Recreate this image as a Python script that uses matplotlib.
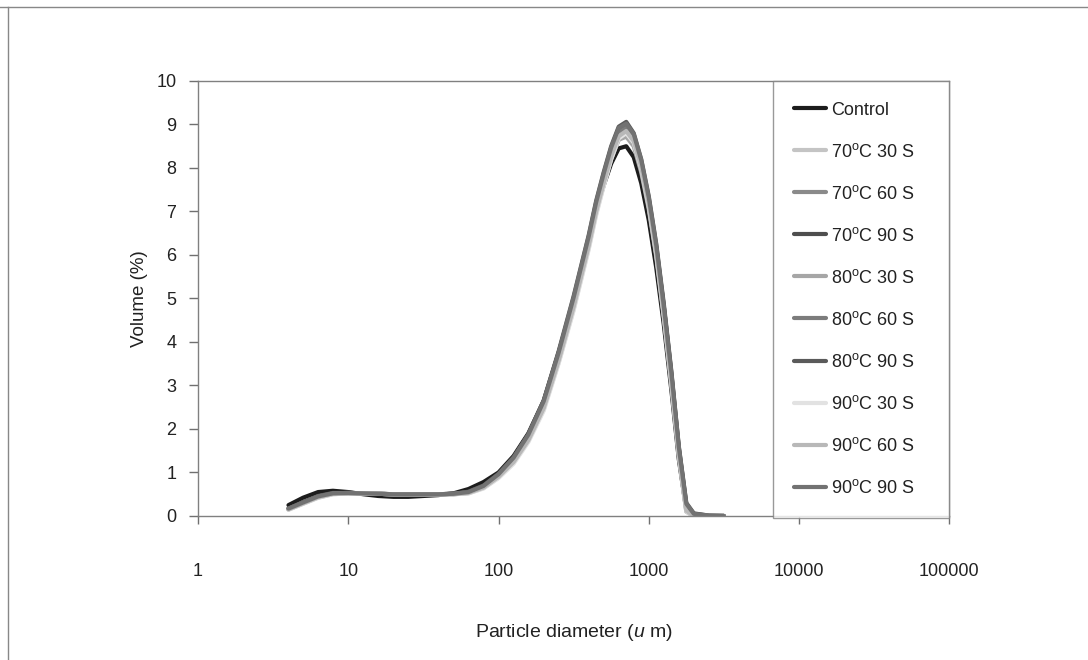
import matplotlib
matplotlib.use("Agg")
import matplotlib.pyplot as plt
from matplotlib.lines import Line2D
from matplotlib.ticker import FixedLocator, NullLocator

plt.rcParams['font.family'] = ['Liberation Sans', 'DejaVu Sans']
plt.rcParams['mathtext.fontset'] = 'custom'
plt.rcParams['mathtext.rm'] = 'Liberation Sans'
plt.rcParams['mathtext.it'] = 'Liberation Sans:italic'

# particle diameter (um), log spaced bins (denser round the peak)
diameter = [4.0, 5.0, 6.3, 7.9, 10, 12.6, 15.8, 20, 25.1, 31.6, 39.8, 50.1, 63.1, 79.4, 100,
            126, 158, 200, 251, 316, 398, 447, 501, 562, 631, 708, 794, 891, 1000, 1122,
            1259, 1413, 1585, 1778, 1995, 2512, 3162]

# volume (%)
control = [0.25, 0.42, 0.55, 0.58, 0.55, 0.50, 0.46, 0.44, 0.44, 0.46, 0.48, 0.52, 0.62, 0.78, 1.00,
           1.38, 1.90, 2.65, 3.75, 4.95, 6.30, 7.05, 7.60, 8.10, 8.45, 8.50, 8.25, 7.65, 6.80, 5.70,
           4.40, 2.90, 1.30, 0.15, 0.00, 0.00, 0.00]
t70_30 = [0.15, 0.28, 0.42, 0.50, 0.52, 0.52, 0.51, 0.50, 0.50, 0.50, 0.50, 0.50, 0.52, 0.64, 0.88,
          1.22, 1.72, 2.45, 3.52, 4.75, 6.15, 6.95, 7.60, 8.20, 8.65, 8.75, 8.55, 7.95, 7.10, 6.00,
          4.60, 3.05, 1.40, 0.10, 0.00, 0.00, 0.00]
t70_60 = [0.16, 0.30, 0.44, 0.51, 0.52, 0.52, 0.51, 0.50, 0.50, 0.50, 0.50, 0.51, 0.54, 0.66, 0.92,
          1.28, 1.80, 2.55, 3.65, 4.90, 6.30, 7.10, 7.75, 8.35, 8.80, 8.88, 8.65, 8.05, 7.20, 6.10,
          4.75, 3.20, 1.50, 0.20, 0.03, 0.00, 0.00]
t70_90 = [0.17, 0.31, 0.45, 0.52, 0.53, 0.52, 0.51, 0.50, 0.50, 0.50, 0.50, 0.51, 0.55, 0.68, 0.95,
          1.32, 1.85, 2.62, 3.72, 4.98, 6.38, 7.18, 7.82, 8.42, 8.88, 8.97, 8.72, 8.12, 7.27, 6.17,
          4.82, 3.27, 1.55, 0.25, 0.05, 0.00, 0.00]
t80_30 = [0.15, 0.29, 0.43, 0.51, 0.52, 0.52, 0.51, 0.50, 0.50, 0.50, 0.50, 0.50, 0.53, 0.65, 0.90,
          1.25, 1.75, 2.50, 3.58, 4.82, 6.22, 7.00, 7.65, 8.25, 8.65, 8.72, 8.50, 7.90, 7.05, 5.95,
          4.55, 3.00, 1.35, 0.10, 0.00, 0.00, 0.00]
t80_60 = [0.16, 0.30, 0.44, 0.52, 0.53, 0.52, 0.51, 0.50, 0.50, 0.50, 0.50, 0.51, 0.54, 0.67, 0.93,
          1.30, 1.82, 2.58, 3.68, 4.93, 6.33, 7.13, 7.78, 8.38, 8.83, 8.92, 8.68, 8.08, 7.25, 6.15,
          4.78, 3.23, 1.52, 0.22, 0.04, 0.00, 0.00]
t80_90 = [0.17, 0.32, 0.46, 0.53, 0.53, 0.52, 0.51, 0.50, 0.50, 0.50, 0.50, 0.51, 0.56, 0.70, 0.97,
          1.35, 1.88, 2.66, 3.78, 5.05, 6.45, 7.25, 7.90, 8.50, 8.95, 9.06, 8.80, 8.20, 7.35, 6.25,
          4.88, 3.33, 1.60, 0.30, 0.06, 0.01, 0.00]
t90_30 = [0.14, 0.28, 0.42, 0.50, 0.52, 0.52, 0.51, 0.50, 0.50, 0.50, 0.50, 0.50, 0.52, 0.63, 0.87,
          1.20, 1.70, 2.42, 3.50, 4.72, 6.12, 6.92, 7.58, 8.20, 8.68, 8.80, 8.58, 7.98, 7.12, 6.02,
          4.62, 3.07, 1.42, 0.10, 0.00, 0.00, 0.00]
t90_60 = [0.15, 0.29, 0.43, 0.51, 0.52, 0.52, 0.51, 0.50, 0.50, 0.50, 0.50, 0.50, 0.53, 0.65, 0.90,
          1.24, 1.74, 2.48, 3.56, 4.80, 6.20, 7.00, 7.65, 8.27, 8.73, 8.85, 8.62, 8.02, 7.18, 6.08,
          4.68, 3.13, 1.45, 0.12, 0.00, 0.00, 0.00]
t90_90 = [0.17, 0.31, 0.45, 0.52, 0.53, 0.52, 0.51, 0.50, 0.50, 0.50, 0.50, 0.51, 0.55, 0.69, 0.96,
          1.34, 1.87, 2.64, 3.75, 5.02, 6.42, 7.22, 7.87, 8.47, 8.92, 9.02, 8.78, 8.18, 7.32, 6.22,
          4.82, 3.30, 1.58, 0.28, 0.05, 0.01, 0.00]

series = [control, t70_30, t70_60, t70_90, t80_30, t80_60, t80_90, t90_30, t90_60, t90_90]
labels = ['Control',
          '70$^{\\mathrm{o}}$C 30 S', '70$^{\\mathrm{o}}$C 60 S', '70$^{\\mathrm{o}}$C 90 S',
          '80$^{\\mathrm{o}}$C 30 S', '80$^{\\mathrm{o}}$C 60 S', '80$^{\\mathrm{o}}$C 90 S',
          '90$^{\\mathrm{o}}$C 30 S', '90$^{\\mathrm{o}}$C 60 S', '90$^{\\mathrm{o}}$C 90 S']
colors = ['#1c1c1c', '#c4c4c4', '#8a8a8a', '#4e4e4e', '#a6a6a6',
          '#7c7c7c', '#5a5a5a', '#e2e2e2', '#b8b8b8', '#727272']
xticks = [1, 10, 100, 1000, 10000, 100000]

fig = plt.figure(figsize=(10.88, 6.6), dpi=100)
ax = fig.add_axes([0.182, 0.2182, 0.6905, 0.6591])

for y, lab, col in zip(series, labels, colors):
    ax.plot(diameter, y, color=col, lw=3, label=lab, solid_capstyle='round',
            solid_joinstyle='round')

ax.set_xscale('log')
ax.set_xlim(1, 100000)
ax.set_ylim(0, 10)
ax.xaxis.set_major_locator(FixedLocator(xticks))
ax.xaxis.set_minor_locator(NullLocator())
ax.set_xticks(xticks)
ax.set_xticklabels([str(v) for v in xticks])
ax.set_yticks(range(0, 11))
ax.tick_params(axis='x', direction='out', length=6, width=1, color='#707070', pad=28,
               labelsize=13, labelcolor='#222222')
ax.tick_params(axis='y', direction='out', length=6.5, width=1, color='#707070', pad=9,
               labelsize=13, labelcolor='#222222')
for sp in ax.spines.values():
    sp.set_color('#808080')
    sp.set_linewidth(1)

ax.set_ylabel('Volume (%)', fontsize=13.5, color='#222222', labelpad=6)
ax.set_xlabel('Particle diameter ($\\it{u}$ m)', fontsize=14, color='#222222', labelpad=30)

leg = ax.legend(loc='upper left', bbox_to_anchor=(0.7656, 0, 0.2344, 1), mode='expand',
                borderaxespad=0, fontsize=13, frameon=True, fancybox=False,
                edgecolor='#808080', handlelength=1.75, handletextpad=0.3,
                labelspacing=1.33, borderpad=1.15)
leg.get_frame().set_linewidth(1)
for t in leg.get_texts():
    t.set_color('#222222')

# page frame of the scanned figure
fig.add_artist(Line2D([0, 1], [0.989, 0.989], transform=fig.transFigure, color='#888888', lw=1))
fig.add_artist(Line2D([0.0075, 0.0075], [0, 0.989], transform=fig.transFigure, color='#888888', lw=1))

fig.savefig('out.png', dpi=100)
